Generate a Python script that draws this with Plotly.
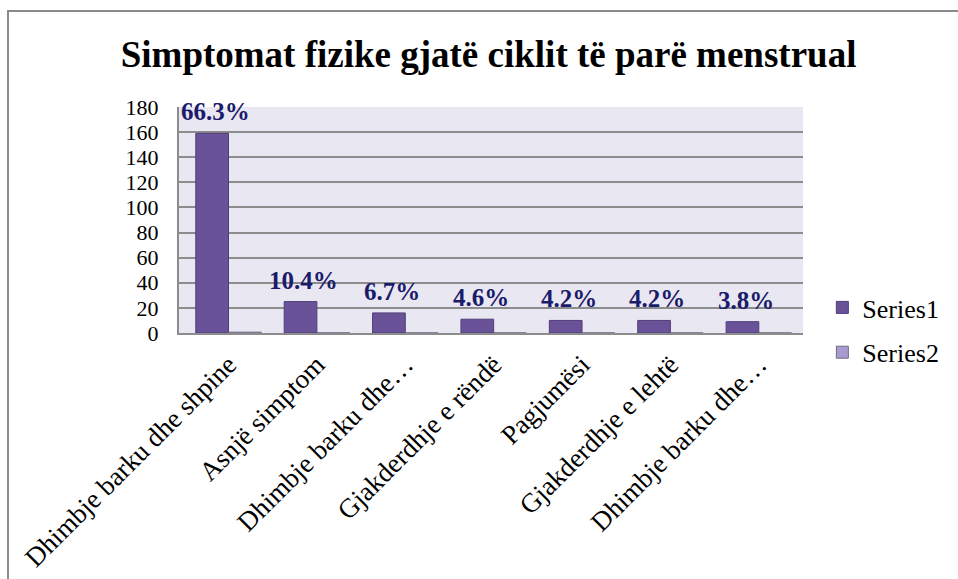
import plotly.graph_objects as go

categories = ["Dhimbje barku dhe shpine", "Asnjë simptom", "Dhimbje barku dhe…",
              "Gjakderdhje e rëndë", "Pagjumësi", "Gjakderdhje e lehtë", "Dhimbje barku dhe…"]
cat_ids = ["c1", "c2", "c3", "c4", "c5", "c6", "c7"]
series1 = [159, 25, 16, 11, 10, 10, 9]
series2 = [0.663, 0.104, 0.067, 0.046, 0.042, 0.042, 0.038]
labels = ["66.3%", "10.4%", "6.7%", "4.6%", "4.2%", "4.2%", "3.8%"]
y_ticks = [0, 20, 40, 60, 80, 100, 120, 140, 160, 180]

FONT = "Liberation Serif, Times New Roman, serif"

fig = go.Figure()
fig.add_trace(go.Bar(x=cat_ids, y=series1, name="Series1", legendgroup="a",
                     marker=dict(color="#6a5299", line=dict(color="#4f3d78", width=1))))
fig.add_trace(go.Bar(x=cat_ids, y=series2, name="Series2", legendgroup="b",
                     marker=dict(color="#a99bcf", line=dict(color="#6f6a80", width=1))))

for cid, v, t in zip(cat_ids, series1, labels):
    fig.add_annotation(x=cid, y=v, text="<b>%s</b>" % t, showarrow=False,
                       xshift=-13, yshift=6, yanchor="bottom",
                       font=dict(family=FONT, size=25, color="#1b1b6b"))

fig.add_shape(type="rect", xref="paper", yref="paper",
              x0=(8 - 179) / 624, x1=2.0, y0=-2.0, y1=(333 - 11) / 226,
              line=dict(color="#8a8a8a", width=2), fillcolor="rgba(0,0,0,0)", layer="below")

fig.update_layout(
    width=958, height=579,
    margin=dict(l=179, r=155, t=107, b=246, autoexpand=False),
    paper_bgcolor="white", plot_bgcolor="#e9e7f2",
    barmode="group", bargap=0.26, bargroupgap=0,
    title=dict(text="<b>Simptomat fizike gjatë ciklit të parë menstrual</b>",
               x=0.51, xref="container", xanchor="center",
               y=1 - 54 / 579, yanchor="middle",
               font=dict(family=FONT, size=37, color="black")),
    font=dict(family=FONT, color="black"),
    legend=dict(x=1.031, xanchor="left", y=(333 - 284) / 226, yanchor="top",
                font=dict(family=FONT, size=26, color="black"),
                tracegroupgap=8, bgcolor="rgba(0,0,0,0)"),
    showlegend=True,
)
fig.update_xaxes(tickvals=cat_ids, ticktext=categories, tickangle=-45,
                 tickfont=dict(family=FONT, size=27, color="black"),
                 showline=True, linecolor="#8c8c8c", linewidth=2, automargin=False,
                 ticks="", showgrid=False, ticklabelstandoff=3)
fig.update_yaxes(range=[0, 180], tickvals=y_ticks, automargin=False,
                 tickfont=dict(family=FONT, size=22, color="black"),
                 showline=True, linecolor="#8c8c8c", linewidth=2,
                 gridcolor="#8c8c8c", gridwidth=2, ticks="", zeroline=False,
                 ticklabelstandoff=14)

fig.write_html("out.html", config={"displayModeBar": False},
               post_script="document.body.style.margin='0';document.body.style.overflow='hidden';")
